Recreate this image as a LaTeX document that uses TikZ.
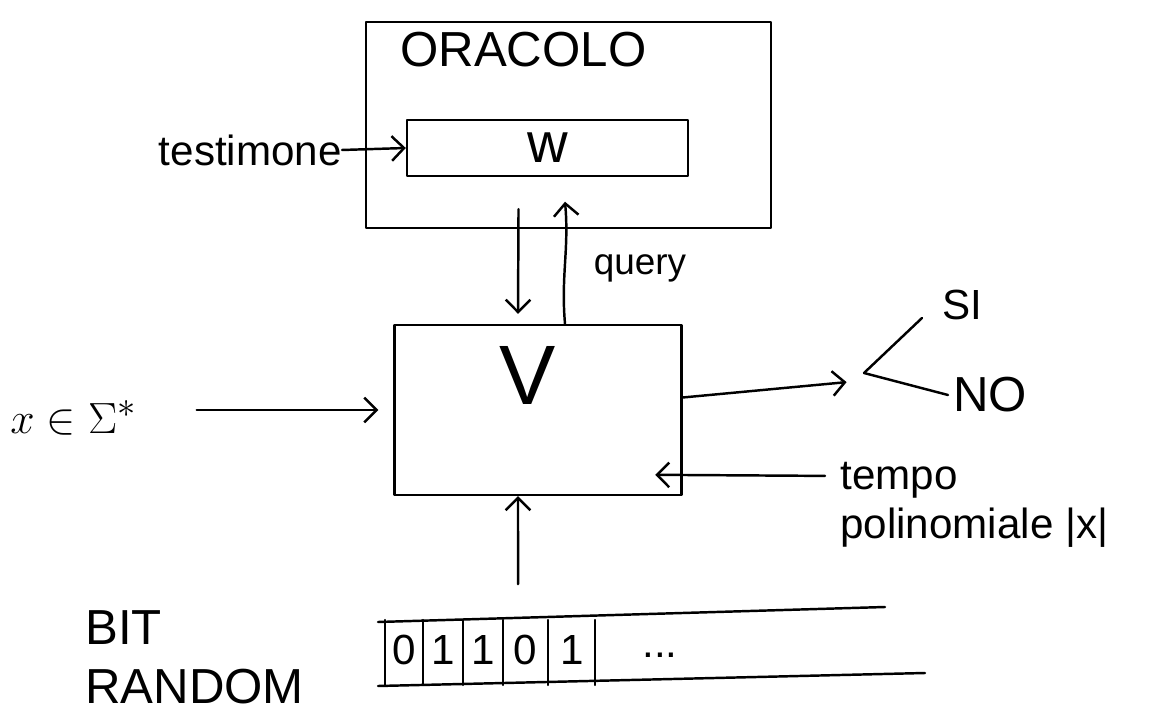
\documentclass[tikz,border=0pt]{standalone}
\usepackage{fontspec}
\setmainfont{Liberation Sans}
\usetikzlibrary{arrows.meta}
\begin{document}
\begin{tikzpicture}[x=0.02cm,y=-0.02cm,
  ink/.style={line width=1.4pt, line cap=round, line join=round},
  arr/.style={ink, -{Straight Barb[length=7pt,width=14pt]}},
  boxst/.style={ink, draw, rectangle, inner sep=0pt},
  lbl/.style={inner sep=0pt, font=\fontsize{24}{28}\selectfont},
  big/.style={inner sep=0pt, font=\fontsize{28}{34}\selectfont}]
\useasboundingbox (0,0) rectangle (1155,722);

% boxes
\node[boxst, minimum width=8.1cm, minimum height=4.12cm] (oracle) at (568.5,125) {};
\node[big, anchor=west] (oname) at (400,50) {ORACOLO};
\node[boxst, minimum width=5.62cm, minimum height=1.12cm, font=\fontsize{32}{36}\selectfont] (w) at (547.5,148) {w};
\node[boxst, minimum width=5.74cm, minimum height=3.4cm] (V) at (538,410) {};
\node[inner sep=0pt, font=\fontsize{48}{52}\selectfont] (vlab) at (528,375) {V};

% tape
\node[inner sep=0pt, minimum width=10.94cm, minimum height=1.36cm] (tape) at (651.5,646) {};
\draw[ink] (378,622) -- (885,607);
\draw[ink] (378,686) -- (925,673);
\foreach \xx in {385,423,463,503,548,595} \draw[ink] (\xx,620) -- (\xx,685);
\foreach \xx/\d [count=\i] in {404/0,443/1,483/1,525/0,572/1}
  \node[lbl] (b\i) at (\xx,650) {\d};
\node[lbl] (dots) at (660,655) {...};
\node[big, align=left, anchor=north west] (bitr) at (85,610) {BIT\\RANDOM};

% labels
\node[lbl, anchor=east] (test) at (342,150) {testimone};
\node[big, anchor=west] (xin) at (10,418) {$x\in\Sigma^*$};
\node[inner sep=0pt, font=\fontsize{21}{25}\selectfont] (query) at (640,268) {query};
\node[lbl, align=left, anchor=north west] (tempo) at (840,462) {tempo\\polinomiale |x|};
\node[lbl] (si) at (962,305) {SI};
\node[big] (no) at (990,395) {NO};
\coordinate (fork) at (864,373);

% connectors
\draw[arr] (test.east) -- (w.west);
\draw[arr] ([xshift=-1cm,yshift=0.4cm]oracle.south) -- ([xshift=-0.4cm,yshift=0.2cm]V.north);
\draw[arr] ([xshift=0.54cm]V.north) to[out=95,in=-85] ([xshift=-0.07cm,yshift=0.55cm]oracle.south);
\draw[arr, shorten <=1.2cm, shorten >=0.3cm] (xin.east |- V.west) -- (V.west);
\draw[arr, shorten >=0.35cm] ([yshift=0.25cm]V.east) -- ([yshift=-0.15cm]fork);
\draw[ink] (fork) -- (922,318);
\draw[ink] (fork) -- (948,395);
\draw[arr, shorten <=0.3cm, shorten >=-0.55cm] (tempo.west |- 0,476) -- ([yshift=-1.3cm]V.east);
\draw[arr, shorten <=0.55cm] ([xshift=-2.67cm]tape.north) -- ([xshift=-0.4cm]V.south);
\end{tikzpicture}
\end{document}
